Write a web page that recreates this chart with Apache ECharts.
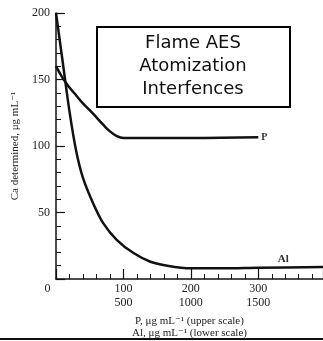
<!DOCTYPE html>
<html>
<head>
<meta charset="utf-8">
<script src="https://cdn.jsdelivr.net/npm/echarts@6/dist/echarts.min.js"></script>
<style>
  html, body { margin: 0; padding: 0; background: #fff; }
  #chart { width: 323px; height: 341px; }
</style>
</head>
<body>
<div id="chart"></div>
<script>
// P on the upper scale, Al on the lower scale (lower = upper * 5)
const pConc = [0, 10, 20, 30, 40, 50, 60, 70, 80, 90, 100, 150, 200, 300]
const caWithP = [160, 151, 144, 138, 132, 127, 121.5, 116, 111, 107.5, 106, 106, 106, 106.5]

const alConc = [0, 10, 20, 30, 40, 55, 70, 90, 115, 140, 165, 200, 250, 300, 396]
const caWithAl = [200, 163, 126, 96, 76, 57, 42, 29.5, 19.5, 13, 10, 8, 8, 8.5, 9]

const upperTicks = [0, 100, 200, 300]
const lowerTicks = ['', '500', '1000', '1500']
const yTicks = [50, 100, 150, 200]

const boxLines = ['Flame AES', 'Atomization', 'Interfences']

const serif = '"Liberation Serif", "DejaVu Serif", serif'

const myChart = echarts.init(document.getElementById('chart'))

const option = {
  backgroundColor: '#fff',
  animation: false,
  grid: { left: 56, right: 0, top: 13, bottom: 62, outerBoundsMode: 'none' },
  xAxis: {
    type: 'value',
    min: 0,
    max: 396,
    interval: 100,
    name: 'P, μg mL⁻¹ (upper scale)\nAl, μg mL⁻¹ (lower scale)',
    nameLocation: 'middle',
    nameGap: 35,
    nameTextStyle: { fontFamily: serif, fontSize: 11, color: '#222', lineHeight: 12 },
    axisLine: { lineStyle: { color: '#111', width: 1.5 } },
    axisTick: { inside: true, length: 10, lineStyle: { color: '#111', width: 1.2 } },
    minorTick: { show: true, splitNumber: 5, length: 5, lineStyle: { color: '#111', width: 1 } },
    splitLine: { show: false },
    axisLabel: {
      showMaxLabel: false,
      margin: 3,
      fontFamily: serif,
      fontSize: 12,
      color: '#222',
      lineHeight: 14,
      formatter: function (v) {
        const i = upperTicks.indexOf(v)
        if (i < 0) return ''
        if (v === 0) return '{z|0}'
        return v + '\n' + lowerTicks[i]
      },
      rich: { z: { fontFamily: serif, fontSize: 12, color: '#222', padding: [0, 17, 0, 0] } }
    }
  },
  yAxis: {
    type: 'value',
    min: 0,
    max: 200,
    interval: 50,
    name: 'Ca determined, μg mL⁻¹',
    nameLocation: 'middle',
    nameGap: 33,
    nameTextStyle: { fontFamily: serif, fontSize: 11, color: '#222' },
    axisLine: { show: true, lineStyle: { color: '#111', width: 1.5 } },
    axisTick: { inside: true, length: 9, lineStyle: { color: '#111', width: 1.2 } },
    minorTick: { show: true, splitNumber: 5, length: 5, lineStyle: { color: '#111', width: 1 } },
    splitLine: { show: false },
    axisLabel: {
      margin: 6,
      fontFamily: serif,
      fontSize: 12,
      color: '#222',
      formatter: function (v) { return yTicks.indexOf(v) >= 0 ? String(v) : '' }
    }
  },
  series: [
    {
      name: 'P',
      type: 'line',
      data: pConc.map((x, i) => [x, caWithP[i]]),
      smooth: 0.4,
      symbol: 'none',
      lineStyle: { color: '#111', width: 2.5 },
      endLabel: {
        show: true,
        formatter: 'P',
        distance: 3,
        fontFamily: serif,
        fontSize: 10,
        fontWeight: 'bold',
        color: '#333'
      }
    },
    {
      name: 'Al',
      type: 'line',
      data: alConc.map((x, i) => [x, caWithAl[i]]),
      smooth: 0.3,
      symbol: 'none',
      lineStyle: { color: '#111', width: 2.5 },
      markPoint: {
        symbol: 'circle',
        symbolSize: 1,
        itemStyle: { color: 'rgba(0,0,0,0)' },
        data: [{ coord: [337, 9] }],
        label: {
          show: true,
          position: 'top',
          distance: 2,
          formatter: 'Al',
          fontFamily: serif,
          fontSize: 11,
          fontWeight: 'bold',
          color: '#333'
        }
      }
    }
  ],
  graphic: [
    {
      type: 'rect',
      x: 97,
      y: 27,
      z: 100,
      shape: { width: 193, height: 80 },
      style: { fill: '#fff', stroke: '#000', lineWidth: 2 }
    },
    {
      type: 'text',
      x: 193,
      y: 32,
      z: 101,
      style: {
        text: boxLines.join('\n'),
        fill: '#111',
        font: '18px "DejaVu Sans", sans-serif',
        lineHeight: 23,
        align: 'center',
        textAlign: 'center'
      }
    },
    {
      type: 'rect',
      x: 0,
      y: 338,
      z: 100,
      shape: { width: 323, height: 2 },
      style: { fill: '#111' }
    }
  ]
}

myChart.setOption(option)
</script>
</body>
</html>
